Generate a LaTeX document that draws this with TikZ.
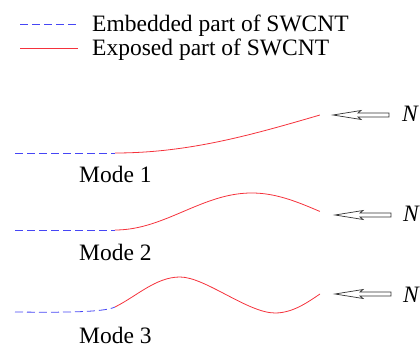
\documentclass[tikz,border=0pt]{standalone}
\usepackage{fontspec}
\setmainfont{Liberation Serif}
\definecolor{embblue}{RGB}{70,70,245}
\definecolor{expred}{RGB}{245,50,60}
\begin{document}
\begin{tikzpicture}[
        x=1pt, y=-1pt,
        every node/.style={inner sep=0pt, font=\fontsize{23.5}{28}\selectfont},
        embedded/.style={draw=embblue, line width=0.8pt, dash pattern=on 8pt off 4pt},
        exposed/.style={draw=expred, line width=0.8pt},
        label/.style={anchor=base west},
        force/.style={anchor=base west, font=\fontsize{23.5}{28}\selectfont\itshape},
        loadarrow/.pic={
            \draw[line width=0.7pt, black!80] (0,0) -- (28,-4.5) -- (25,-2) -- (56,-2)
                -- (56,2) -- (25,2) -- (28,4.5) -- cycle;
        },
    ]
    \useasboundingbox (0,0) rectangle (420,347);

    % legend
    \coordinate (l1a) at (20,24);
    \coordinate (l1b) at (78,24);
    \coordinate (l2a) at (20,48);
    \coordinate (l2b) at (78,48);
    \draw[embedded] (l1a) -- (l1b);
    \draw[exposed] (l2a) -- (l2b);
    \node[label] (embtxt) at (92,32) {Embedded part of SWCNT};
    \node[label] (exptxt) at (92,56) {Exposed part of SWCNT};

    % mode 1
    \coordinate (b1) at (15,153);
    \coordinate (j1) at (115,153);
    \draw[embedded] (b1) -- (j1);
    \draw[exposed] plot[domain=0:1, samples=60, variable=\s]
        ({115+205*\s}, {153-38*(1-cos(90*\s))}) coordinate (e1);
    \pic at (333,115) {loadarrow};
    \node[force] (n1) at (402,122) {N};
    \node[label] (m1) at (79,183) {Mode 1};

    % mode 2
    \coordinate (b2) at (15,230);
    \coordinate (j2) at (115,230);
    \draw[embedded] (b2) -- (j2);
    \draw[exposed] plot[domain=0:1, samples=80, variable=\s]
        ({115+205*\s}, {230-18.5*(1-cos(270*\s))}) coordinate (e2);
    \pic at (335,215) {loadarrow};
    \node[force] (n2) at (403,222) {N};
    \node[label] (m2) at (79,261) {Mode 2};

    % mode 3
    \coordinate (b3) at (15,312);
    \coordinate (j3) at (115,307);
    \coordinate (p3) at (180,277);
    \coordinate (t3) at (275,313);
    \coordinate (e3) at (320,294);
    \draw[embedded] (b3) .. controls (60,312.5) and (104,312.5) .. (j3);
    \draw[exposed] (j3) .. controls (137,296) and (156,277) .. (p3)
        .. controls (205,277) and (248,313) .. (t3)
        .. controls (293,313) and (308,302) .. (e3);
    \pic at (335,294) {loadarrow};
    \node[force] (n3) at (403,302) {N};
    \node[label] (m3) at (79,343) {Mode 3};
\end{tikzpicture}
\end{document}
